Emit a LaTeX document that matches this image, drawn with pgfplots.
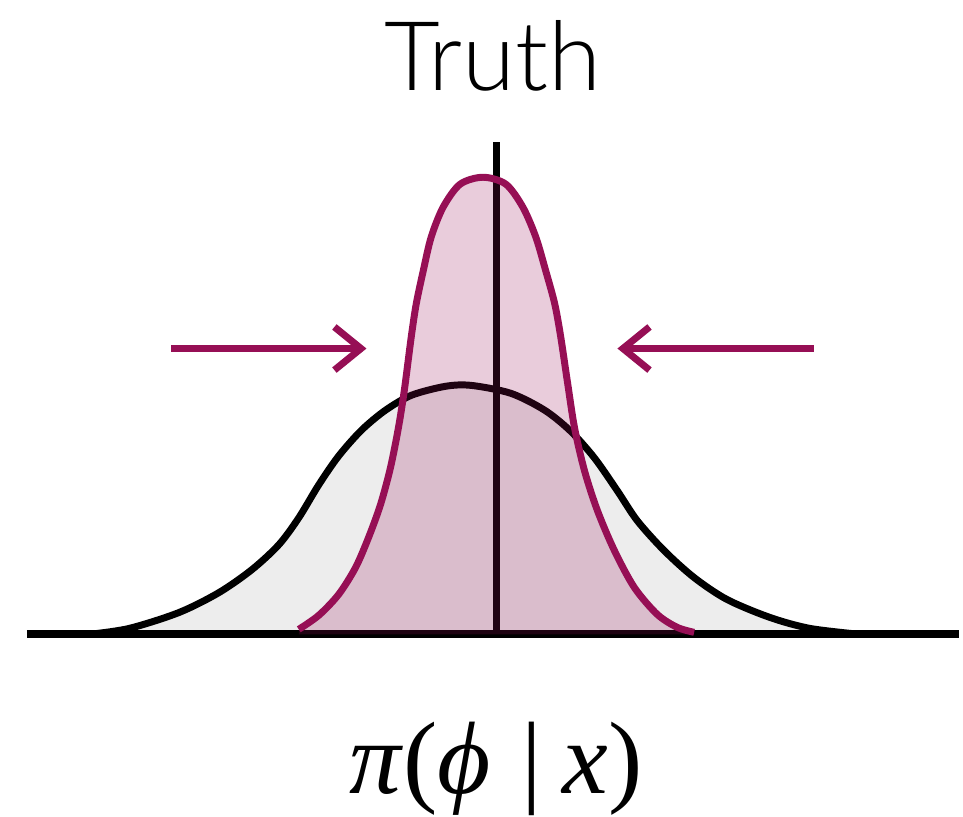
\documentclass[border=0pt]{standalone}
\usepackage{fontspec}
\usepackage{pgfplots}
\pgfplotsset{compat=1.18}
\usetikzlibrary{arrows.meta}
\setmainfont{Lato}[UprightFont=* Light]
\newfontfamily\tms{Liberation Serif}
\definecolor{plum}{RGB}{150,15,85}
\definecolor{lgray}{RGB}{237,237,237}

% wide prior (black) and narrow posterior (plum)
\pgfplotstableread{
x y
-4.09 0.00
-3.69 0.06
-3.19 0.22
-2.79 0.42
-2.46 0.65
-2.19 0.90
-1.99 1.17
-1.79 1.50
-1.59 1.79
-1.36 2.05
-1.12 2.25
-0.86 2.40
-0.52 2.49
-0.26 2.50
 0.14 2.42
 0.48 2.25
 0.74 2.04
 0.98 1.77
 1.21 1.44
 1.41 1.14
 1.68 0.84
 1.98 0.57
 2.31 0.35
 2.74 0.17
 3.14 0.06
 3.64 0.00
}\prior
\pgfplotstableread{
x y
-1.99 0.05
-1.79 0.19
-1.59 0.40
-1.42 0.67
-1.29 0.97
-1.17 1.30
-1.07 1.67
-0.99 2.07
-0.93 2.45
-0.86 2.99
-0.81 3.32
-0.74 3.65
-0.66 3.99
-0.54 4.29
-0.37 4.52
-0.14 4.59
 0.09 4.52
 0.26 4.29
 0.39 3.99
 0.49 3.65
 0.58 3.32
 0.64 2.99
 0.71 2.52
 0.78 2.07
 0.88 1.64
 1.01 1.24
 1.18 0.84
 1.38 0.47
 1.61 0.20
 1.81 0.07
 1.98 0.02
}\post

\begin{document}
\begin{tikzpicture}
\begin{axis}[
  scale only axis, width=288.9pt, height=246pt,
  xmin=-4.99, xmax=4.64, ymin=-1.83, ymax=6.37,
  hide axis, clip=false,
]
  \path (rel axis cs:0,0) rectangle (rel axis cs:1,1);
  % prior
  \addplot[draw=none, fill=lgray, smooth] table {\prior} \closedcycle;
  \addplot[black, line width=2.1pt, smooth] table {\prior};
  % baseline and truth
  \addplot[black, line width=2.4pt] coordinates {(-4.72,0) (4.64,0)};
  \addplot[black, line width=2.1pt] coordinates {(0,0) (0,4.94)};
  % posterior
  \addplot[draw=none, fill=plum, fill opacity=0.21, smooth] table {\post} \closedcycle;
  \addplot[plum, line width=2.1pt, smooth] table {\post};
  % arrows
  \addplot[plum, line width=2.1pt, -{Straight Barb[length=8pt, width=13pt]}] coordinates {(-3.27,2.87) (-1.31,2.87)};
  \addplot[plum, line width=2.1pt, -{Straight Barb[length=8pt, width=13pt]}] coordinates {(3.18,2.87) (1.21,2.87)};
  \node[anchor=base, font=\fontsize{29}{31}\selectfont] at (axis cs:-0.04,5.46) {Truth};
  \node[anchor=south, inner sep=0pt, font=\tms\fontsize{31}{33}\selectfont] at (axis cs:-0.01,-1.83)
    {\textit{π}(\textit{ϕ}\hspace{0.3em}|\hspace{0.2em}\textit{x})};
\end{axis}
\end{tikzpicture}
\end{document}
